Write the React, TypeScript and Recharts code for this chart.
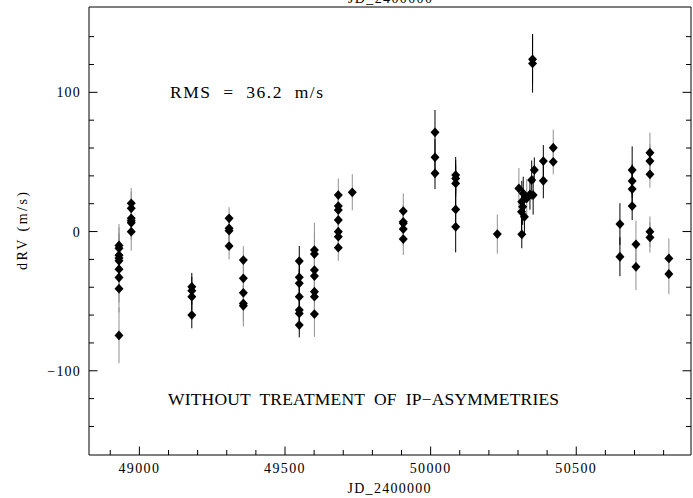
import React from "react";
import { ScatterChart, Scatter, XAxis, YAxis, ErrorBar } from "recharts";

// [JD - 2400000, dRV (m/s), error (m/s)]
type Obs = [number, number, number];

// observations whose error bars print black
const darkObs: Obs[] = [
  [49180, -39.7, 10], [49180, -42.5, 10], [49180, -46.8, 10], [49180, -60, 9.5],
  [49549, -21.2, 10.8], [49549, -32.9, 10], [49549, -37.2, 10], [49549, -46.8, 10],
  [49549, -56.4, 10], [49549, -58.8, 10], [49549, -67.2, 8.8],
  [50015, 71.3, 16], [50015, 53.3, 13], [50015, 41.8, 11.3],
  [50086, 40.6, 13], [50086, 38.2, 13], [50086, 34.6, 13], [50086, 15.9, 15], [50086, 3.4, 18.4],
  [50313, 21.4, 15], [50316, 17.8, 13], [50312, 14.2, 14], [50322, 10.6, 12], [50313, -2, 10],
  [50318, 27.4, 12], [50341, 26.7, 11], [50352, 26.2, 14], [50347, 37, 14], [50356, 44.2, 9],
  [50387, 50.6, 11.5], [50387, 36.5, 12.6],
  [50350, 123.7, 18], [50350, 120.8, 21],
  [50650, 5.4, 15], [50650, -18.1, 14],
  [50692, 44.2, 17], [50692, 36.3, 12], [50692, 30.5, 12], [50692, 18.3, 10],
];

// observations whose error bars print grey
const greyObs: Obs[] = [
  [48930, -10, 15.4], [48930, -12, 15], [48930, -17, 16], [48930, -19, 17], [48930, -21, 16],
  [48930, -27, 18], [48930, -33, 18], [48930, -41, 17], [48930, -74.6, 20],
  [48972, 20.3, 11], [48972, 16.7, 12], [48972, 9.5, 12], [48972, 7.8, 12], [48972, 6.3, 12], [48972, -0.1, 13.7],
  [49308, 9.5, 8], [49308, 2.3, 9], [49308, 0.6, 9], [49308, -10.4, 9.6],
  [49357, -20.5, 10], [49357, -33.6, 12], [49357, -44, 12], [49357, -51.6, 13], [49357, -53.3, 15],
  [49601, -13.3, 19.6], [49601, -16.2, 15], [49601, -27.7, 14], [49601, -32, 14],
  [49601, -43.2, 14], [49601, -46.8, 14], [49601, -59.3, 16.3],
  [49683, 26.2, 12], [49683, 18.3, 11], [49683, 15.4, 11], [49683, 8.3, 11],
  [49683, -0.1, 11], [49683, -3.7, 11], [49683, -11.6, 9.4],
  [49731, 28.2, 13],
  [49906, 14.7, 12.7], [49906, 7, 12], [49906, 5.9, 12], [49906, 1.8, 12], [49906, -5.4, 11.5],
  [50229, -1.8, 14],
  [50303, 31, 14.6], [50330, 23.9, 14], [50421, 60.2, 13], [50421, 50.1, 9],
  [50705, -9.2, 17], [50705, -25.3, 16.7],
  [50753, 56.6, 14.4], [50753, 50.6, 12], [50753, 41.1, 9.6],
  [50753, -0.1, 11], [50753, -4.2, 11],
  [50818, -19.3, 14.4], [50818, -30.5, 14.4],
];

const xTicks = [48900, 49000, 49100, 49200, 49300, 49400, 49500, 49600, 49700, 49800, 49900,
  50000, 50100, 50200, 50300, 50400, 50500, 50600, 50700, 50800];
const xLabelTicks = [49000, 49500, 50000, 50500];
const yTicks = [-140, -120, -100, -80, -60, -40, -20, 0, 20, 40, 60, 80, 100, 120, 140];
const yLabelTicks = [-100, 0, 100];

const X_DOMAIN: [number, number] = [48827, 50894];
const Y_DOMAIN: [number, number] = [-160.5, 161.3];

const FONT = "'Liberation Serif', 'Times New Roman', serif";
const MAJOR = 8.5;
const MINOR = 5;

const fmt = (v: number) => (v < 0 ? "\u2212" + Math.abs(v) : String(v));

const toPts = (rows: Obs[]) => rows.map(([jd, rv, err]) => ({ jd, rv, err }));

const Diamond = (p: any) => {
  const { cx, cy } = p;
  if (cx == null || cy == null) return null;
  return (
    <polygon
      points={`${cx},${cy - 4.9} ${cx + 4.5},${cy} ${cx},${cy + 4.9} ${cx - 4.5},${cy}`}
      fill="#000"
    />
  );
};

const BottomTick = (p: any) => {
  const { x, y, payload } = p;
  const major = xLabelTicks.includes(payload.value);
  return (
    <g>
      <line x1={x} y1={y} x2={x} y2={y - (major ? MAJOR : MINOR)} stroke="#000" />
      {major && (
        <text x={x} y={y + 18} textAnchor="middle" fontFamily={FONT} fontSize={14} letterSpacing={1.4} fill="#000">
          {fmt(payload.value)}
        </text>
      )}
    </g>
  );
};

const TopTick = (p: any) => {
  const { x, y, payload } = p;
  const major = xLabelTicks.includes(payload.value);
  return <line x1={x} y1={y} x2={x} y2={y + (major ? MAJOR : MINOR)} stroke="#000" />;
};

const LeftTick = (p: any) => {
  const { x, y, payload } = p;
  const major = yLabelTicks.includes(payload.value);
  return (
    <g>
      <line x1={x} y1={y} x2={x + (major ? MAJOR : MINOR)} y2={y} stroke="#000" />
      {major && (
        <text x={x - 8} y={y + 5} textAnchor="end" fontFamily={FONT} fontSize={14} letterSpacing={1.2} fill="#000">
          {fmt(payload.value)}
        </text>
      )}
    </g>
  );
};

const RightTick = (p: any) => {
  const { x, y, payload } = p;
  const major = yLabelTicks.includes(payload.value);
  return <line x1={x} y1={y} x2={x - (major ? MAJOR : MINOR)} y2={y} stroke="#000" />;
};

export default function App() {
  const dark = toPts(darkObs);
  const grey = toPts(greyObs);

  return (
    <div style={{ position: "absolute", left: 0, top: 0, width: 693, height: 498, background: "#fff" }}>
      <ScatterChart width={693} height={498} margin={{ top: 6, right: 1, bottom: 0, left: 0 }}>
        <XAxis
          dataKey="jd"
          type="number"
          domain={X_DOMAIN}
          allowDataOverflow
          ticks={xTicks}
          interval={0}
          tickSize={0}
          tickMargin={0}
          tickLine={false}
          tick={<BottomTick />}
          axisLine={{ stroke: "#000" }}
          height={43}
        />
        <XAxis
          xAxisId="top"
          orientation="top"
          type="number"
          domain={X_DOMAIN}
          allowDataOverflow
          ticks={xTicks}
          interval={0}
          tickSize={0}
          tickMargin={0}
          tickLine={false}
          tick={<TopTick />}
          axisLine={{ stroke: "#000" }}
          height={1}
        />
        <YAxis
          dataKey="rv"
          type="number"
          domain={Y_DOMAIN}
          allowDataOverflow
          ticks={yTicks}
          interval={0}
          tickSize={0}
          tickMargin={0}
          tickLine={false}
          tick={<LeftTick />}
          axisLine={{ stroke: "#000" }}
          width={89}
        />
        <YAxis
          yAxisId="right"
          orientation="right"
          type="number"
          domain={Y_DOMAIN}
          allowDataOverflow
          ticks={yTicks}
          interval={0}
          tickSize={0}
          tickMargin={0}
          tickLine={false}
          tick={<RightTick />}
          axisLine={{ stroke: "#000" }}
          width={1}
        />
        <Scatter data={grey} shape={Diamond} isAnimationActive={false}>
          <ErrorBar dataKey="err" direction="y" width={0} stroke="#909090" strokeWidth={1} />
        </Scatter>
        <Scatter data={dark} shape={Diamond} isAnimationActive={false}>
          <ErrorBar dataKey="err" direction="y" width={0} stroke="#000" strokeWidth={1} />
        </Scatter>
      </ScatterChart>
      <svg
        width={693}
        height={498}
        style={{ position: "absolute", left: 0, top: 0, pointerEvents: "none" }}
        fontFamily={FONT}
        fill="#000"
      >
        {/* top title is cropped by the frame edge, as in the original figure */}
        <text x={390} y={3} textAnchor="middle" fontSize={14} textLength={84} lengthAdjust="spacing">
          JD_2400000
        </text>
        <text x={389} y={493} textAnchor="middle" fontSize={14} textLength={83} lengthAdjust="spacing">
          JD_2400000
        </text>
        <text
          transform="translate(27,231) rotate(-90)"
          textAnchor="middle"
          fontSize={14}
          textLength={78}
          lengthAdjust="spacing"
        >
          dRV (m/s)
        </text>
        <text x={170} y={98} fontSize={17.5} textLength={153} lengthAdjust="spacing" style={{ whiteSpace: "pre" }}>
          {"RMS  =  36.2  m/s"}
        </text>
        <text x={168} y={405} fontSize={17.5} textLength={391} lengthAdjust="spacing" style={{ whiteSpace: "pre" }}>
          {"WITHOUT  TREATMENT  OF  IP\u2212ASYMMETRIES"}
        </text>
      </svg>
    </div>
  );
}
